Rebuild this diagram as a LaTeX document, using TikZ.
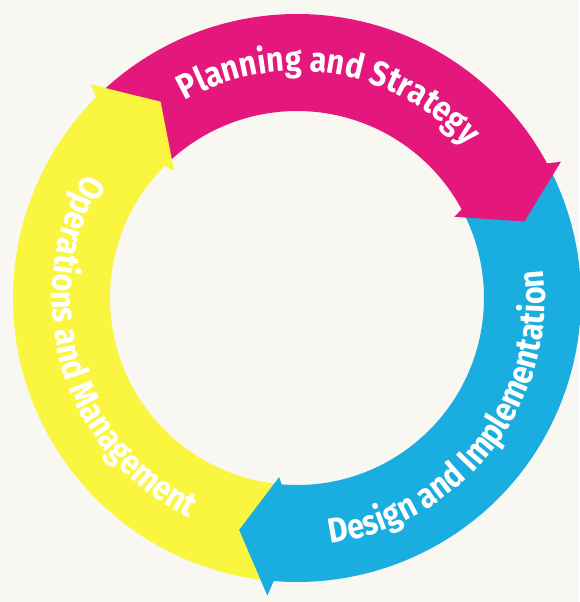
\documentclass[tikz,border=0pt]{standalone}
\usepackage{fontspec}
\newfontfamily\ringfont{Fira Sans}[FakeStretch=0.87]
\usetikzlibrary{decorations.text}
\definecolor{planmag}{RGB}{228,24,124}
\definecolor{designcyan}{RGB}{26,174,224}
\definecolor{opsyellow}{RGB}{250,245,62}
\definecolor{paper}{RGB}{248,247,241}
\begin{document}
\begin{tikzpicture}[x=1pt,y=1pt,
  ringtext/.style={decorate,decoration={text along path,text align=center,text color=white,
    text={|\ringfont\bfseries\fontsize{35}{35}\selectfont|#1}}}]

\fill[paper] (-297,-304) rectangle (282,298);
\useasboundingbox (-297,-304) rectangle (282,298);

\fill[opsyellow]   (264.3:284) arc[start angle=264.3,end angle=134,radius=284] -- (134:187) arc[start angle=134,end angle=264.3,radius=187] -- cycle;
\fill[planmag]     (134:284) arc[start angle=134,end angle=27.3,radius=284] -- (27.3:187) arc[start angle=27.3,end angle=134,radius=187] -- cycle;
\fill[designcyan]  (27.3:284) arc[start angle=27.3,end angle=-95.7,radius=284] -- (-95.7:187) arc[start angle=-95.7,end angle=27.3,radius=187] -- cycle;

\fill[opsyellow]  (134:297) -- (124.8:239) -- (134:177) -- (135:187) -- (135:284) -- cycle;
\fill[planmag]    (27.3:297) -- (18.6:240) -- (27.3:177) -- (28.3:187) -- (28.3:284) -- cycle;
\fill[designcyan] (-95.7:299) -- (-104:239) -- (-95.7:180) -- (-94.7:187) -- (-94.7:284) -- cycle;

\path[ringtext={Planning and Strategy}] (140.7:227) arc[start angle=140.7,end angle=20.7,radius=227];
\path[ringtext={Design and Implementation}] (-97.8:248) arc[start angle=-97.8,end angle=22.2,radius=248];
\path[ringtext={Operations and Management}] (140:245) arc[start angle=140,end angle=253.4,radius=245];
\end{tikzpicture}
\end{document}
